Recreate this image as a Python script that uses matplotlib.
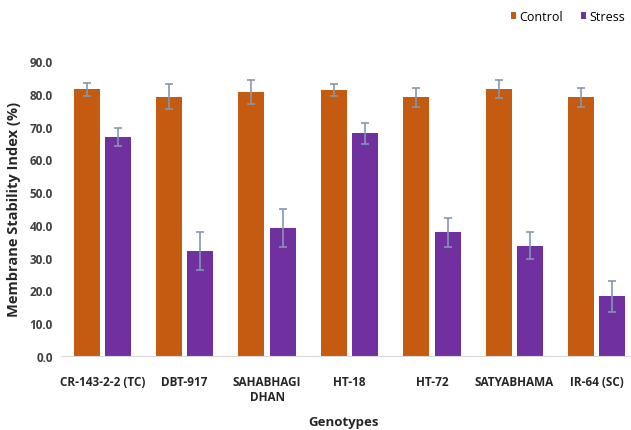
import numpy as np
import matplotlib.pyplot as plt

genotypes = ['CR-143-2-2 (TC)', 'DBT-917', 'SAHABHAGI\nDHAN', 'HT-18', 'HT-72', 'SATYABHAMA', 'IR-64 (SC)']
control = [81.4, 79.1, 80.5, 81.1, 78.9, 81.4, 78.9]
control_err = [2.0, 3.8, 3.7, 1.8, 2.8, 2.8, 2.8]
stress = [66.8, 31.9, 39.2, 68.0, 37.7, 33.6, 18.2]
stress_err = [2.7, 5.8, 5.8, 3.2, 4.4, 4.1, 4.7]

plt.rcParams['font.family'] = ['Open Sans', 'DejaVu Sans']

fig = plt.figure(figsize=(6.31, 4.31), dpi=100)
ax = fig.add_axes([61 / 631, 74 / 431, 577 / 631, 295 / 431])

x = np.arange(len(genotypes))
w = 0.315
off = 0.19
ekw = dict(ecolor='#8497B0', elinewidth=1.2, capsize=3, capthick=1.2)
ax.bar(x - off, control, w, yerr=control_err, color='#C55A11', label='Control', error_kw=ekw)
ax.bar(x + off, stress, w, yerr=stress_err, color='#7030A0', label='Stress', error_kw=ekw)

ax.set_xlim(-0.5, len(genotypes) - 0.5)
ax.set_ylim(0, 90)
ax.set_yticks(np.arange(0, 91, 10))
ax.set_yticklabels([f'{v:.1f}' for v in np.arange(0, 91, 10)], fontsize=8.5, fontweight='bold', color='#404040')
ax.set_xticks(x)
ax.set_xticklabels(genotypes, fontsize=8.5, fontweight='bold', color='#262626')
ax.tick_params(length=0, pad=6)
ax.tick_params(axis='x', pad=14)

for s in ['top', 'right', 'left']:
    ax.spines[s].set_visible(False)
ax.spines['bottom'].set_color('#D9D9D9')

ax.set_ylabel('Membrane Stability Index (%)', fontsize=10.5, fontweight='bold', color='#262626', labelpad=6)
ax.set_xlabel('Genotypes', fontsize=9.5, fontweight='bold', color='#262626')
ax.xaxis.set_label_coords(0.489, -0.2)

ax.legend(loc='upper right', bbox_to_anchor=(625 / 631, 1 - 11 / 431), bbox_transform=fig.transFigure,
          ncol=2, frameon=False, fontsize=9, handlelength=0.45, handleheight=0.45,
          handletextpad=0.25, columnspacing=1.4, borderaxespad=0, borderpad=0)

fig.savefig('out.png', dpi=100)
